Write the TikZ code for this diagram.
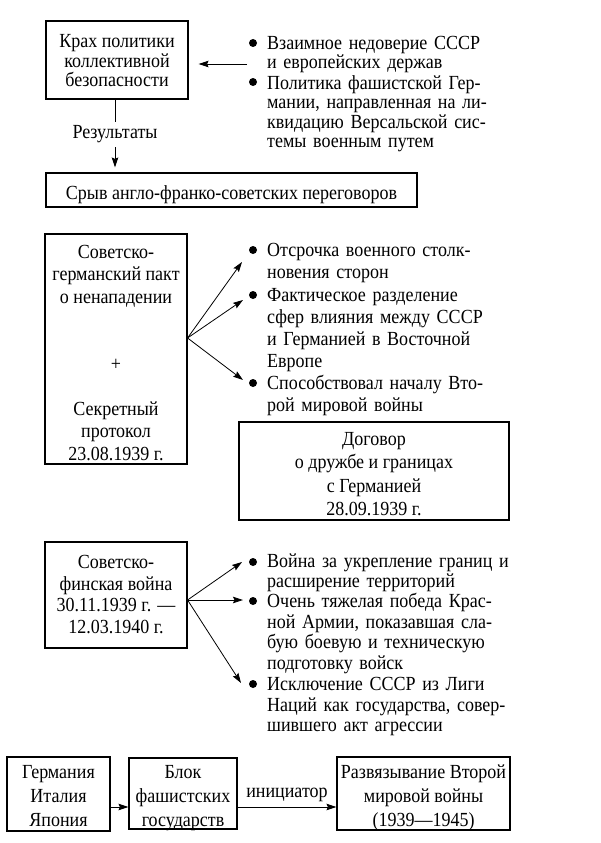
\documentclass[tikz,border=0pt]{standalone}
\usepackage{fontspec}
\setmainfont{Liberation Serif}[FakeStretch=0.9]
\usetikzlibrary{arrows.meta,calc}
\newcommand{\myA}[1]{\rule{0pt}{#1pt}}
\newcommand{\myD}{\rule[-8pt]{0pt}{8pt}}
\begin{document}
\begin{tikzpicture}[x=1pt,y=-1pt,
  box/.style={draw, line width=1.1pt, inner xsep=0pt, inner ysep=-15pt, align=center},
  item/.style={anchor=base west, inner sep=0pt, text width=270pt, align=left},
  arr/.style={-{Stealth[length=10pt,width=6.5pt,inset=1.5pt]}, line width=0.8pt},
  dot/.style={circle, fill, inner sep=0pt, minimum size=8pt},
  fa/.style={font=\fontsize{20}{19.5}\selectfont},
  fb/.style={font=\fontsize{20}{22}\selectfont},
  fc/.style={font=\fontsize{20}{20.5}\selectfont}
]
\fill[white] (0,0) rectangle (600,843);
\useasboundingbox (0,0) rectangle (600,843);

% top section
\node[box, fa, minimum width=142, minimum height=78] (b1) at (117,60) {\myA{22}Крах политики\\коллективной\\безопасности\myD};
\node[dot] (d1) at (253,43) {};
\node[dot] (d2) at (253,82) {};
\node[item, fa] (t1) at (267,49) {Взаимное недоверие СССР\\и европейских держав};
\node[item, fa] (t2) at (267,89) {Политика фашистской Гер-\\мании, направленная на ли-\\квидацию Версальской сис-\\темы военным путем};
\coordinate (a1) at (247,64);
\draw[arr, shorten >=10pt] (a1) -- (b1.east |- a1);

\node[fa, inner sep=0pt, minimum height=25] (res) at (115,134.5) {Результаты};
\node[box, fa, minimum width=371, minimum height=34] (b2) at (231.5,190) {\myA{27}Срыв англо-франко-советских переговоров\myD};
\draw[line width=0.8pt] (res.north |- b1.south) -- (res.north);
\draw[arr, shorten >=5pt] (res.south) -- (res.south |- b2.north);

% pact section
\node[box, font=\fontsize{20}{22.5}\selectfont, minimum width=142, minimum height=230] (b3) at (116,349) {\myA{28}Советско-\\германский пакт\\о ненападении\\[44.5pt]+\\[22.5pt]Секретный\\протокол\\23.08.1939 г.\myD};
\node[dot] (d3) at (253,250) {};
\node[dot] (d4) at (253,295) {};
\node[dot] (d5) at (253,383) {};
\node[item, fb] (t3) at (267,256.5) {Отсрочка военного столк-\\новения сторон};
\node[item, fb] (t4) at (267,301.5) {Фактическое разделение\\сфер влияния между СССР\\и Германией в Восточной\\Европе};
\node[item, fb] (t5) at (267,389.5) {Способствовал началу Вто-\\рой мировой войны};
\coordinate (p3) at ($(b3.east)+(0,-11)$);
\coordinate (e3) at (242,262);
\coordinate (e4) at (243,300);
\coordinate (e5) at (243,380);
\draw[arr] (p3) -- (e3);
\draw[arr] (p3) -- (e4);
\draw[arr] (p3) -- (e5);
\node[box, font=\fontsize{20}{23.3}\selectfont, minimum width=270, minimum height=98] (b4) at (374,471) {\myA{27}Договор\\о дружбе и границах\\с Германией\\28.09.1939 г.\myD};

% finnish war
\node[box, font=\fontsize{20}{21.7}\selectfont, minimum width=142, minimum height=106] (b5) at (116,595) {\myA{20}Советско-\\финская война\\30.11.1939 г. —\\12.03.1940 г.\myD};
\node[dot] (d6) at (253,562) {};
\node[dot] (d7) at (253,601) {};
\node[dot] (d8) at (253,684) {};
\node[item, fc] (t6) at (267,567) {Война за укрепление границ и\\расширение территорий};
\node[item, fc] (t7) at (267,607.5) {Очень тяжелая победа Крас-\\ной Армии, показавшая сла-\\бую боевую и техническую\\подготовку войск};
\node[item, fc] (t8) at (267,690.5) {Исключение СССР из Лиги\\Наций как государства, совер-\\шившего акт агрессии};
\coordinate (p5) at ($(b5.east)+(0,5)$);
\coordinate (e6) at (242,562);
\coordinate (e7) at (243,600);
\coordinate (e8) at (241,683);
\draw[arr] (p5) -- (e6);
\draw[arr] (p5) -- (e7);
\draw[arr] (p5) -- (e8);

% bottom
\node[box, font=\fontsize{20}{24}\selectfont, minimum width=103, minimum height=74] (b6) at (58.5,794) {\myA{25}Германия\\Италия\\Япония\myD};
\node[box, font=\fontsize{20}{24}\selectfont, minimum width=108, minimum height=71] (b7) at (183,793.5) {\myA{26}Блок\\фашистских\\государств\myD};
\node[box, font=\fontsize{20}{24}\selectfont, minimum width=173, minimum height=73] (b8) at (423.5,793.5) {\myA{26}Развязывание Второй\\мировой войны\\(1939—1945)\myD};
\draw[arr] ($(b6.east)+(0,13)$) -- ($(b7.west)+(0,13.5)$);
\draw[arr] ($(b7.east)+(0,13.5)$) -- ($(b8.west)+(0,13.5)$) node[midway, anchor=base, yshift=10pt, fa, inner sep=0pt] (ini) {инициатор};
\end{tikzpicture}
\end{document}
